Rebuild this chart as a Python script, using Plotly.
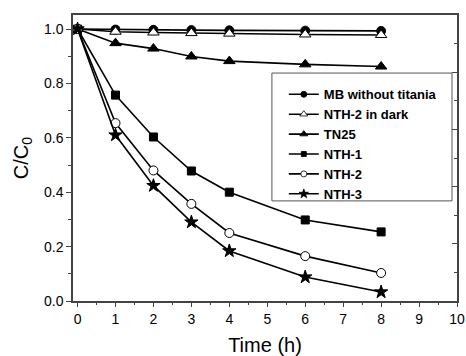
import plotly.graph_objects as go

time_h = [0, 1, 2, 3, 4, 6, 8]
series_names = ["MB without titania", "NTH-2 in dark", "TN25", "NTH-1", "NTH-2", "NTH-3"]
mb_without_titania = [1.0, 0.998, 0.997, 0.996, 0.995, 0.994, 0.993]
nth2_dark = [1.0, 0.99, 0.987, 0.985, 0.983, 0.98, 0.978]
tn25 = [1.0, 0.948, 0.928, 0.899, 0.882, 0.870, 0.862]
nth1 = [1.0, 0.757, 0.603, 0.478, 0.40, 0.298, 0.254]
nth2 = [1.0, 0.654, 0.48, 0.357, 0.25, 0.165, 0.103]
nth3 = [1.0, 0.61, 0.424, 0.29, 0.184, 0.088, 0.033]
x_ticks = list(range(0, 11))
y_ticks = [0.0, 0.2, 0.4, 0.6, 0.8, 1.0]

values = [mb_without_titania, nth2_dark, tn25, nth1, nth2, nth3]
styles = [
    dict(symbol="circle", color="black", size=9, lsize=6),
    dict(symbol="triangle-up", color="white", size=10, lsize=7),
    dict(symbol="triangle-up", color="black", size=10, lsize=7),
    dict(symbol="square", color="black", size=8, lsize=5),
    dict(symbol="circle", color="white", size=9, lsize=6),
    dict(symbol="star", color="black", size=10, lsize=7),
]

FONT = "Arial, Liberation Sans, sans-serif"
fig = go.Figure()
for name, vals, st in zip(series_names, values, styles):
    fig.add_trace(go.Scatter(
        x=time_h, y=vals, name=name, mode="lines+markers", showlegend=False,
        line=dict(color="black", width=1.6),
        marker=dict(symbol=st["symbol"], color=st["color"], size=st["size"],
                    line=dict(color="black", width=1)),
    ))
# legend entries (smaller symbols, as in the original legend)
for name, st in zip(series_names, styles):
    fig.add_trace(go.Scatter(
        x=[None], y=[None], name=name, mode="lines+markers",
        line=dict(color="black", width=1.6),
        marker=dict(symbol=st["symbol"], color=st["color"], size=st["lsize"],
                    line=dict(color="black", width=0.8)),
    ))
fig.add_trace(go.Scatter(x=[0], y=[None], yaxis="y2", showlegend=False, hoverinfo="skip"))

axis_col = "#444"
fig.update_layout(
    width=466, height=356,
    margin=dict(l=73, r=9, t=15, b=55),
    plot_bgcolor="white", paper_bgcolor="white",
    font=dict(family=FONT, color="black", size=14),
    xaxis=dict(range=[-0.12, 10], tickvals=x_ticks, ticks="outside", ticklen=4,
               tickwidth=1.2, tickcolor=axis_col, automargin=False,
               minor=dict(dtick=0.5, ticks="outside", ticklen=2.5, tickcolor=axis_col),
               showline=True, linecolor=axis_col, linewidth=1.5, mirror=True,
               showgrid=False, zeroline=False,
               title=dict(text="Time (h)", font=dict(size=20), standoff=12),
               tickfont=dict(size=14)),
    yaxis=dict(range=[0, 1.0515], tickvals=y_ticks, tickformat=".1f", ticks="outside",
               ticklen=5, tickwidth=1.2, tickcolor=axis_col, automargin=False,
               minor=dict(dtick=0.1, ticks="outside", ticklen=3, tickcolor=axis_col),
               showline=True, linecolor=axis_col, linewidth=1.5, mirror=True,
               showgrid=False, zeroline=False,
               title=dict(text="C/C<sub>0</sub>", font=dict(size=20), standoff=10),
               tickfont=dict(size=14)),
    yaxis2=dict(overlaying="y", side="right", range=[0, 1], tickvals=[0.2, 0.4, 0.6, 0.8],
                ticks="inside", ticklen=5, tickcolor=axis_col, showticklabels=False,
                automargin=False,
                minor=dict(dtick=0.1, ticks="inside", ticklen=3, tickcolor=axis_col),
                showgrid=False, zeroline=False, showline=False),
    legend=dict(x=0.549, y=0.775, xanchor="left", yanchor="top",
                bgcolor="rgba(0,0,0,0)", borderwidth=0,
                font=dict(family=FONT, size=13, weight="bold"),
                tracegroupgap=0),
    shapes=[dict(type="rect", xref="paper", yref="paper",
                 x0=0.518, x1=0.987, y0=0.35, y1=0.797,
                 line=dict(color="#555", width=1), fillcolor="white", layer="below")],
    showlegend=True,
)
fig.write_html("out.html")
